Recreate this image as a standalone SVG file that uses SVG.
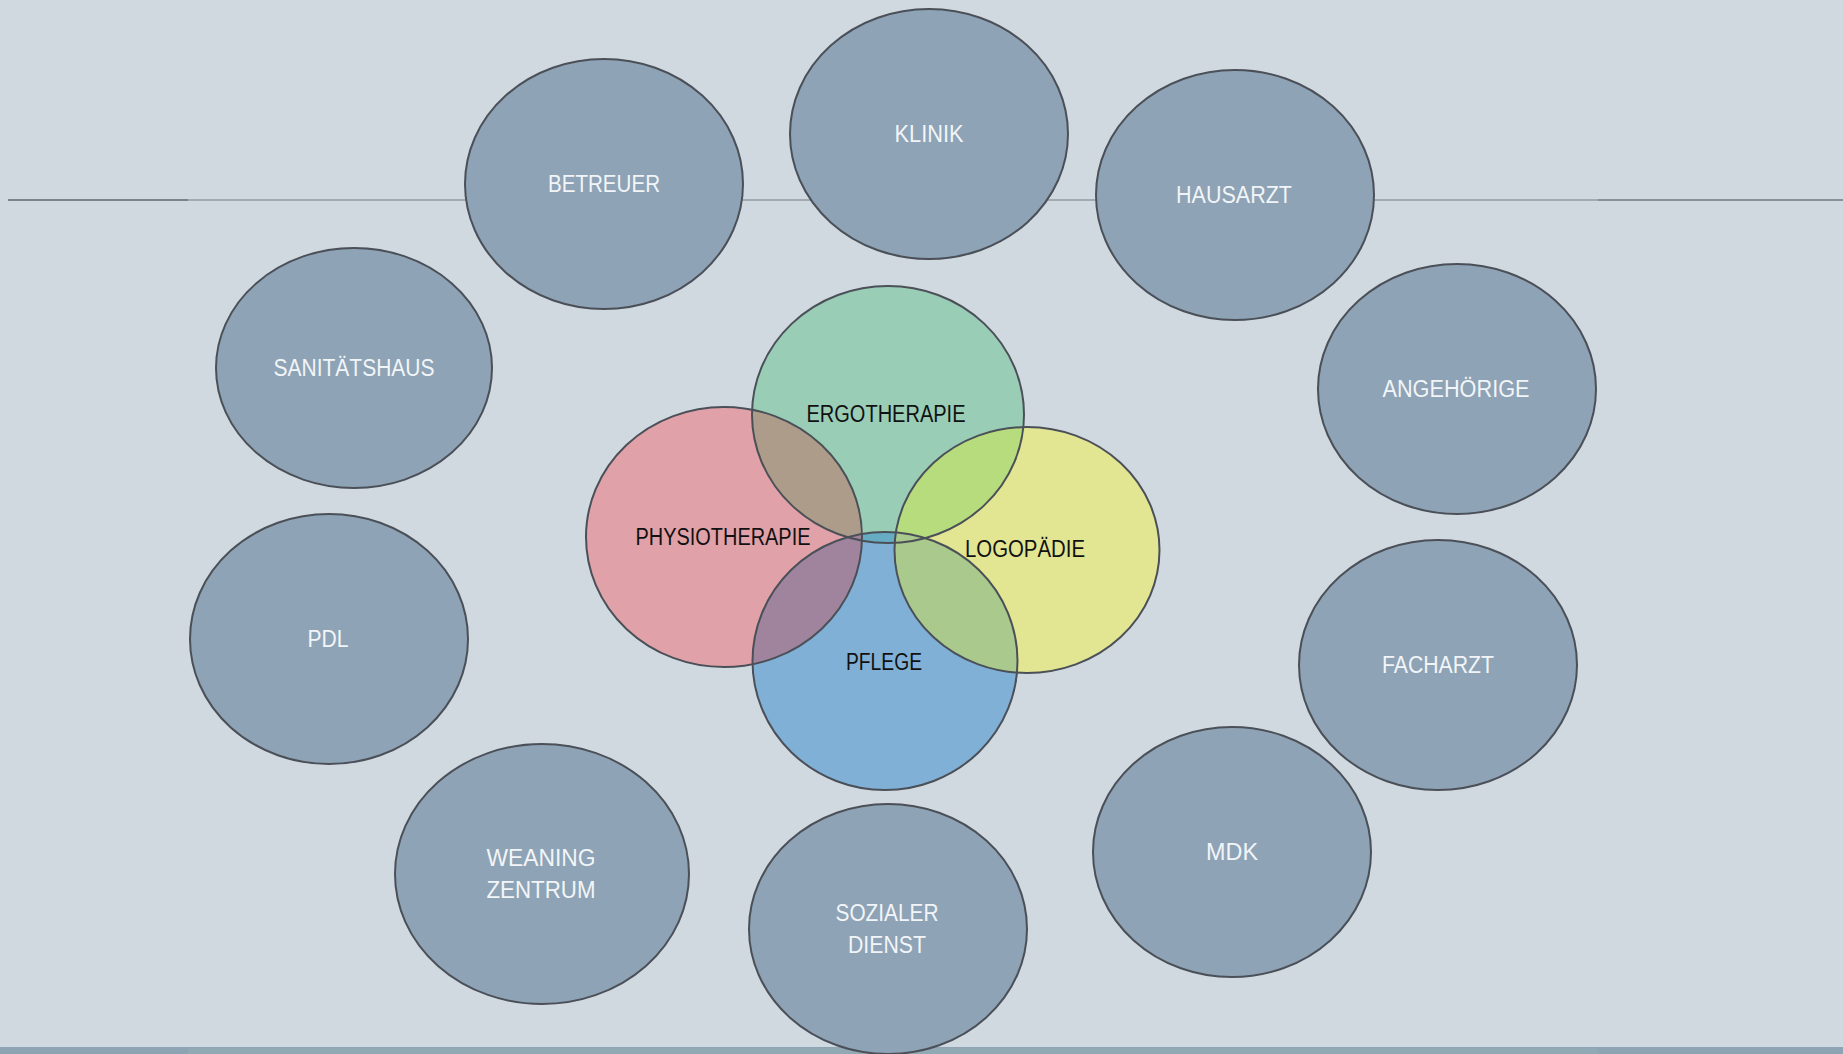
<svg xmlns="http://www.w3.org/2000/svg" width="1843" height="1054" viewBox="0 0 1843 1054">
<style>
.outer{fill:#8ea3b5;stroke:#4b5058;stroke-width:2}
.lbl{font-family:"Liberation Sans","Open Sans",sans-serif;font-size:23px;fill:#f2f5f8;text-anchor:middle}
.in{font-family:"Liberation Sans","Open Sans",sans-serif;font-size:23px;fill:#111;text-anchor:middle}
.ol{fill:none;stroke:#4b5058;stroke-width:2}
</style>
<defs>
<clipPath id="cG"><ellipse cx="888" cy="414.5" rx="136" ry="128.5"/></clipPath>
<clipPath id="cR"><ellipse cx="724" cy="537" rx="138" ry="130"/></clipPath>
<clipPath id="cY"><ellipse cx="1027" cy="550" rx="132.5" ry="123"/></clipPath>
<clipPath id="cB"><ellipse cx="885" cy="661" rx="132.5" ry="129"/></clipPath>
</defs>
<rect width="1843" height="1054" fill="#d1d9e0"/>
<g id="connectors">
<line x1="8" y1="200" x2="188" y2="200" stroke="#7c8289" stroke-width="2"/>
<line x1="188" y1="200" x2="1598" y2="200" stroke="#a3aab2" stroke-width="2"/>
<line x1="1598" y1="200" x2="1843" y2="200" stroke="#8a9198" stroke-width="2"/>
</g>
<rect x="0" y="1047" width="1843" height="7" fill="#8ea4b4"/>
<rect x="188" y="1048" width="1410" height="6" fill="#91a9b5"/>
<g id="klinik"><ellipse class="outer" cx="929" cy="134" rx="139" ry="125"/><text class="lbl" x="929" y="142" textLength="69" lengthAdjust="spacingAndGlyphs">KLINIK</text></g>
<g id="betreuer"><ellipse class="outer" cx="604" cy="184" rx="139" ry="125"/><text class="lbl" x="604" y="192" textLength="112" lengthAdjust="spacingAndGlyphs">BETREUER</text></g>
<g id="hausarzt"><ellipse class="outer" cx="1235" cy="195" rx="139" ry="125"/><text class="lbl" x="1234" y="203" textLength="116" lengthAdjust="spacingAndGlyphs">HAUSARZT</text></g>
<g id="sanitaetshaus"><ellipse class="outer" cx="354" cy="368" rx="138" ry="120"/><text class="lbl" x="354" y="376" textLength="161" lengthAdjust="spacingAndGlyphs">SANITÄTSHAUS</text></g>
<g id="angehoerige"><ellipse class="outer" cx="1457" cy="389" rx="139" ry="125"/><text class="lbl" x="1456" y="397" textLength="147" lengthAdjust="spacingAndGlyphs">ANGEHÖRIGE</text></g>
<g id="pdl"><ellipse class="outer" cx="329" cy="639" rx="139" ry="125"/><text class="lbl" x="328" y="647" textLength="41" lengthAdjust="spacingAndGlyphs">PDL</text></g>
<g id="facharzt"><ellipse class="outer" cx="1438" cy="665" rx="139" ry="125"/><text class="lbl" x="1438" y="673" textLength="112" lengthAdjust="spacingAndGlyphs">FACHARZT</text></g>
<g id="weaning"><ellipse class="outer" cx="542" cy="874" rx="147" ry="130"/><text class="lbl" x="541" y="866" textLength="109" lengthAdjust="spacingAndGlyphs">WEANING</text><text class="lbl" x="541" y="898" textLength="109" lengthAdjust="spacingAndGlyphs">ZENTRUM</text></g>
<g id="sozialer"><ellipse class="outer" cx="888" cy="929" rx="139" ry="125"/><text class="lbl" x="887" y="921" textLength="103" lengthAdjust="spacingAndGlyphs">SOZIALER</text><text class="lbl" x="887" y="953" textLength="78" lengthAdjust="spacingAndGlyphs">DIENST</text></g>
<g id="mdk"><ellipse class="outer" cx="1232" cy="852" rx="139" ry="125"/><text class="lbl" x="1232" y="860" textLength="52" lengthAdjust="spacingAndGlyphs">MDK</text></g>
<g id="ergotherapie"><ellipse cx="888" cy="414.5" rx="136" ry="128.5" fill="#99cdb6"/></g>
<g id="physiotherapie"><ellipse cx="724" cy="537" rx="138" ry="130" fill="#e0a2a8"/></g>
<g id="logopaedie"><ellipse cx="1027" cy="550" rx="132.5" ry="123" fill="#e2e592"/></g>
<g id="pflege"><ellipse cx="885" cy="661" rx="132.5" ry="129" fill="#80b0d6"/></g>
<g id="overlaps">
<g clip-path="url(#cG)"><ellipse cx="724" cy="537" rx="138" ry="130" fill="#ae9c8a"/><ellipse cx="1027" cy="550" rx="132.5" ry="123" fill="#b6dc7e"/><ellipse cx="885" cy="661" rx="132.5" ry="129" fill="#66acc2"/></g>
<g clip-path="url(#cB)"><ellipse cx="724" cy="537" rx="138" ry="130" fill="#a0849e"/><ellipse cx="1027" cy="550" rx="132.5" ry="123" fill="#a9c98d"/></g>
</g>
<g id="outlines">
<ellipse class="ol" cx="888" cy="414.5" rx="136" ry="128.5"/>
<ellipse class="ol" cx="724" cy="537" rx="138" ry="130"/>
<ellipse class="ol" cx="1027" cy="550" rx="132.5" ry="123"/>
<ellipse class="ol" cx="885" cy="661" rx="132.5" ry="129"/>
</g>
<g id="inner-labels">
<text class="in" x="886" y="422" textLength="159" lengthAdjust="spacingAndGlyphs">ERGOTHERAPIE</text>
<text class="in" x="723" y="545" textLength="175" lengthAdjust="spacingAndGlyphs">PHYSIOTHERAPIE</text>
<text class="in" x="1025" y="557" textLength="120" lengthAdjust="spacingAndGlyphs">LOGOPÄDIE</text>
<text class="in" x="884" y="670" textLength="76" lengthAdjust="spacingAndGlyphs">PFLEGE</text>
</g>
</svg>
